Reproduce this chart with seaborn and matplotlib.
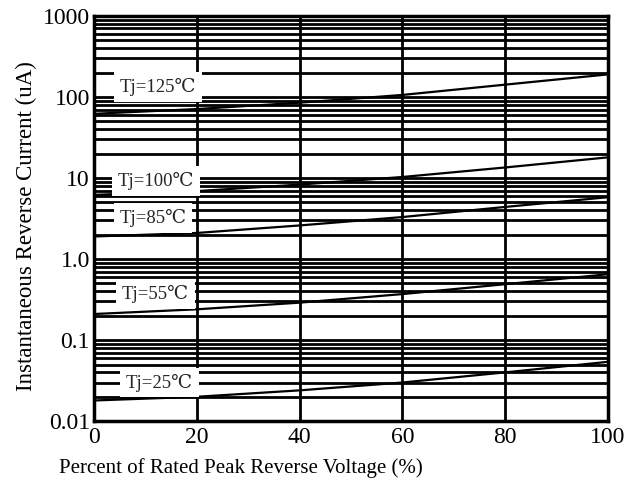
import pandas as pd
import seaborn as sns
import numpy as np
import matplotlib
matplotlib.use('Agg')
import matplotlib.pylab as plt
from matplotlib.ticker import LogLocator, FixedLocator, NullFormatter

# Values
voltage = [0, 20, 40, 60, 80, 100]
tj_125 = [62, 71, 85, 106, 142, 190]
tj_100 = [6.2, 6.9, 8.3, 10.3, 13.5, 18]
tj_85 = [1.9, 2.1, 2.6, 3.3, 4.4, 5.8]
tj_55 = [0.21, 0.24, 0.29, 0.37, 0.49, 0.65]
tj_25 = [0.018, 0.020, 0.024, 0.030, 0.040, 0.054]

labels = ['Tj=125℃', 'Tj=100℃', 'Tj=85℃', 'Tj=55℃', 'Tj=25℃']
label_x = [5.0, 4.6, 5.0, 5.4, 6.2]
label_y = [133, 9.2, 3.2, 0.37, 0.030]

y_ticks = [0.01, 0.1, 1, 10, 100, 1000]
y_tick_labels = ['0.01', '0.1', '1.0', '10', '100', '1000']
x_ticks = [0, 20, 40, 60, 80, 100]

series = [tj_125, tj_100, tj_85, tj_55, tj_25]
df = pd.concat([pd.DataFrame({'voltage': voltage, 'current': s, 'temp': lab})
                for s, lab in zip(series, labels)])

sns.set_style('white')
plt.rcParams['font.family'] = ['Liberation Serif', 'DejaVu Serif', 'DejaVu Sans']

fig = plt.figure(figsize=(6.33, 4.83), dpi=100)
ax = fig.add_axes([0.1485, 0.128, 0.812, 0.839])

ax.set_yscale('log')
ax.set_ylim(0.01, 1000)
ax.set_xlim(0, 100)

# grid: every minor decade line and the 20% verticals
ax.yaxis.set_major_locator(FixedLocator(y_ticks))
ax.yaxis.set_minor_locator(LogLocator(base=10, subs=np.arange(2, 10)))
ax.yaxis.set_minor_formatter(NullFormatter())
ax.set_yticklabels(y_tick_labels)
ax.set_xticks(x_ticks)
ax.grid(True, which='both', axis='y', color='black', linewidth=2.0)
ax.grid(True, which='major', axis='x', color='black', linewidth=2.0)
ax.set_axisbelow(True)

sns.lineplot(data=df, x='voltage', y='current', hue='temp',
             palette=['black'] * 5, linewidth=1.6, legend=False, ax=ax,
             zorder=3)

for lab, lx, ly in zip(labels, label_x, label_y):
    ax.text(lx, ly, lab, fontsize=13.5, va='center', ha='left', zorder=4,
            bbox=dict(facecolor='white', edgecolor='none', pad=4))

for sp in ax.spines.values():
    sp.set_color('black')
    sp.set_linewidth(2.5)

ax.tick_params(axis='both', which='both', length=0, labelsize=17,
               colors='black')
ax.tick_params(axis='y', pad=3)
ax.tick_params(axis='x', pad=4)
ax.set_xlabel('Percent of Rated Peak Reverse Voltage (%)', fontsize=15,
              color='black', labelpad=7)
ax.xaxis.set_label_coords(0.286, -0.09, transform=ax.transAxes)
ax.xaxis.label.set_va('top')
ax.set_ylabel('Instantaneous Reverse Current (uA)', fontsize=16.5,
              color='black', labelpad=4)
ax.yaxis.label.set_y(0.481)

fig.savefig('out.png', dpi=100)
